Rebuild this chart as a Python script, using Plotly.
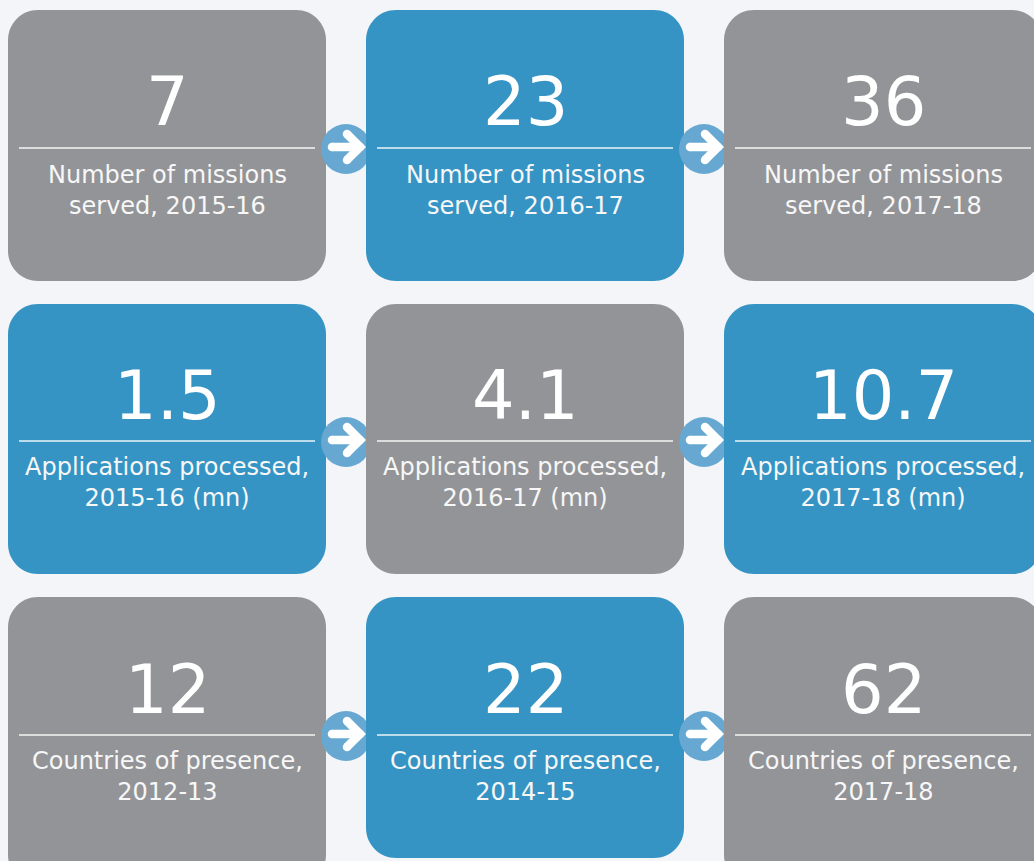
import plotly.graph_objects as go

# ---- data ----
values = ["7", "23", "36", "1.5", "4.1", "10.7", "12", "22", "62"]
labels = [
    "Number of missions<br>served, 2015-16",
    "Number of missions<br>served, 2016-17",
    "Number of missions<br>served, 2017-18",
    "Applications processed,<br>2015-16 (mn)",
    "Applications processed,<br>2016-17 (mn)",
    "Applications processed,<br>2017-18 (mn)",
    "Countries of presence,<br>2012-13",
    "Countries of presence,<br>2014-15",
    "Countries of presence,<br>2017-18",
]
tile_kind = ["gray", "blue", "gray", "blue", "gray", "blue", "gray", "blue", "gray"]

# ---- layout geometry (pixels) ----
W, H = 1034, 861
GRAY = "#939497"
BLUE = "#3594c3"
CIRCLE = "#66a8d2"
BG = "#f3f5f8"
col_x = [(8, 326), (366, 684), (724, 1042)]
row_y = [(10, 281), (304, 574), (597, 858)]
line_y = [148, 441, 735]
num_y = [102, 396, 690]
lab_y = [190, 482, 776]
R = 30

def rrect(x0, x1, y0, y1, r):
    k = 0.4477 * r
    return (f"M{x0+r},{y0} L{x1-r},{y0} C{x1-k},{y0} {x1},{y0+k} {x1},{y0+r} "
            f"L{x1},{y1-r} C{x1},{y1-k} {x1-k},{y1} {x1-r},{y1} "
            f"L{x0+r},{y1} C{x0+k},{y1} {x0},{y1-k} {x0},{y1-r} "
            f"L{x0},{y0+r} C{x0},{y0+k} {x0+k},{y0} {x0+r},{y0} Z")

fig = go.Figure()
shapes = []
annotations = []

for r in range(3):
    for c in range(3):
        i = r * 3 + c
        x0, x1 = col_x[c]
        y0, y1 = row_y[r]
        if r == 2 and tile_kind[i] == "gray":
            y1 = 885  # runs off the bottom edge
        color = BLUE if tile_kind[i] == "blue" else GRAY
        shapes.append(dict(type="path", path=rrect(x0, x1, y0, y1, R),
                           fillcolor=color, line=dict(width=0), layer="below"))
        shapes.append(dict(type="line", x0=x0 + 11, x1=x1 - 11, y0=line_y[r], y1=line_y[r],
                           line=dict(color="rgba(255,255,255,0.9)", width=1.5), layer="below"))
        cx = (x0 + x1) / 2
        annotations.append(dict(x=cx, y=num_y[r], text=values[i], showarrow=False,
                                xanchor="center", yanchor="middle",
                                font=dict(family="DejaVu Sans", size=67, color="white")))
        annotations.append(dict(x=cx, y=lab_y[r], text=labels[i], showarrow=False,
                                xanchor="center", yanchor="middle",
                                font=dict(family="DejaVu Sans", size=24, color="#f7f7f7")))
        if c < 2:
            ax = (col_x[c][1] + col_x[c + 1][0]) / 2
            ay = line_y[r] + 1
            shapes.append(dict(type="circle", x0=ax - 25, x1=ax + 25, y0=ay - 25, y1=ay + 25,
                               fillcolor=CIRCLE, line=dict(width=0), layer="below"))
            fig.add_trace(go.Scatter(
                x=[ax - 14, ax + 13, None, ax + 1, ax + 14, ax + 1],
                y=[ay - 2, ay - 2, None, ay - 15, ay - 2, ay + 11],
                mode="lines+markers",
                line=dict(color="white", width=8.5),
                marker=dict(color="white", size=8.5),
                hoverinfo="skip", showlegend=False))

fig.update_layout(
    width=W, height=H,
    margin=dict(l=0, r=0, t=0, b=0),
    paper_bgcolor=BG, plot_bgcolor=BG,
    xaxis=dict(range=[0, W], visible=False, fixedrange=True),
    yaxis=dict(range=[H, 0], visible=False, fixedrange=True),
    shapes=shapes,
    annotations=annotations,
    showlegend=False,
)
fig.write_html("out.html", config={"displayModeBar": False},
               post_script="document.body.style.margin='0';document.body.style.overflow='hidden';")
